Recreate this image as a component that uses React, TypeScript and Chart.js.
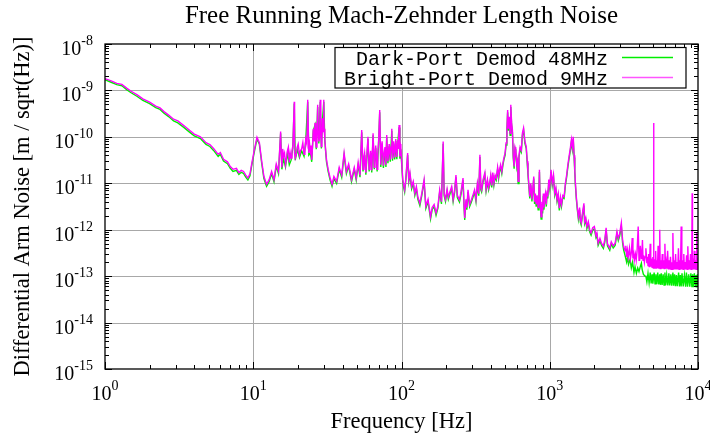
import React, { useEffect, useRef } from 'react';
import { Chart, registerables } from 'chart.js';

Chart.register(...registerables);

const chartTitle = 'Free Running Mach-Zehnder Length Noise';
const xAxisTitle = 'Frequency [Hz]';
const yAxisTitle = 'Differential Arm Noise [m / sqrt(Hz)]';
const seriesLabels = ['Dark-Port Demod 48MHz', 'Bright-Port Demod 9MHz'];
const seriesColors = ['#00ee00', '#ff00ff'];
const xTickExponents = [0, 1, 2, 3, 4];
const yTickExponents = [-15, -14, -13, -12, -11, -10, -9, -8];

// Bright-Port Demod 9MHz: [frequency Hz, noise m/sqrt(Hz)]
const brightPortSpectrum: [number, number][] = [
  [1.0, 1.8e-9], [1.1, 1.6e-9], [1.2, 1.42e-9], [1.3, 1.35e-9], [1.4, 1.12e-9], [1.5, 9.6e-10],
  [1.65, 8.0e-10], [1.8, 6.6e-10], [2.0, 5.6e-10], [2.2, 4.6e-10], [2.35, 4.2e-10], [2.5, 3.5e-10],
  [2.7, 2.9e-10], [2.9, 2.4e-10], [3.1, 2.2e-10], [3.4, 1.75e-10], [3.7, 1.4e-10], [4.0, 1.15e-10],
  [4.4, 1.0e-10], [4.8, 7.5e-11], [5.1, 6.8e-11], [5.4, 5.6e-11], [5.8, 4.2e-11], [6.0, 4.6e-11],
  [6.3, 3.3e-11], [6.7, 2.9e-11], [7.0, 2.3e-11], [7.3, 2.0e-11], [7.7, 2.1e-11], [8.0, 1.7e-11],
  [8.3, 1.9e-11], [8.6, 1.8e-11], [8.9, 1.5e-11], [9.2, 1.3e-11], [9.5, 1.6e-11], [9.8, 2.8e-11],
  [10.2, 5.5e-11], [10.6, 9.8e-11], [11.0, 7.5e-11], [11.4, 3.0e-11], [11.8, 1.4e-11], [12.3, 9.5e-12],
  [12.8, 1.2e-11], [13.3, 1.8e-11], [13.8, 1.2e-11], [14.3, 2.6e-11], [14.8, 1.8e-11], [15.3, 1.3e-10],
  [15.45, 4.0e-11], [15.6, 2.2e-11], [15.8, 5.5e-11], [16.0, 3.8e-11], [16.25, 4.5e-11], [16.5, 2.5e-11],
  [16.75, 3.5e-11], [17.0, 5.0e-11], [17.25, 6.0e-11], [17.5, 2.8e-11], [17.75, 4.5e-11], [18.0, 3.5e-11],
  [18.25, 5.0e-11], [18.5, 6.5e-11], [18.9, 5.7e-10], [19.0, 4.5e-11], [19.2, 3.5e-11], [19.5, 4.2e-11],
  [19.8, 6.0e-11], [20.1, 7.0e-11], [20.5, 4.0e-11], [20.8, 5.0e-11], [21.2, 5.5e-11], [21.6, 7.5e-11],
  [22.0, 4.2e-11], [22.3, 5.0e-11], [22.6, 9.0e-11], [23.0, 7.0e-11], [23.3, 6.3e-10], [23.7, 4.5e-11],
  [24.0, 7.0e-11], [24.3, 5.0e-11], [24.55, 6.5e-11], [24.8, 3.2e-11], [25.1, 6.0e-11], [25.4, 1.5e-10],
  [25.8, 8.0e-11], [26.1, 2.0e-10], [26.35, 9.0e-11], [26.6, 6.0e-11], [26.9, 1.1e-10], [27.2, 4.9e-10],
  [27.45, 1.2e-10], [27.7, 8.0e-11], [28.0, 1.0e-10], [28.3, 6.3e-10], [28.55, 1.5e-10], [28.8, 6.2e-11],
  [29.05, 9.0e-11], [29.3, 2.5e-10], [29.6, 1.3e-10], [29.9, 6.3e-10], [30.1, 1.5e-10], [30.4, 9.0e-11],
  [30.8, 5.0e-11], [31.2, 3.2e-11], [32.0, 2.0e-11],
  [33.0, 1.3e-11], [34.0, 9.5e-12], [35.0, 1.4e-11], [36.5, 1.1e-11], [38.0, 2.2e-11], [39.5, 1.5e-11],
  [41.0, 4.5e-11], [42.5, 1.8e-11], [44.0, 2.6e-11], [46.0, 1.2e-11], [48.0, 2.2e-11], [49.5, 1.3e-11],
  [51.0, 2.8e-11], [52.5, 1.5e-11], [53.9, 1.4e-10], [54.5, 5.0e-11], [55.0, 2.0e-11], [55.7, 3.5e-11],
  [56.4, 4.5e-11], [57.5, 1.7e-11], [58.4, 4.0e-11], [59.4, 1.0e-10], [60.5, 2.0e-11], [61.2, 3.5e-11],
  [62.0, 5.0e-11], [63.0, 1.9e-11], [63.6, 4.5e-11], [64.3, 1.2e-10], [65.5, 2.2e-11], [66.2, 4.0e-11],
  [67.0, 6.5e-11], [67.7, 3.5e-11], [68.5, 2.0e-11], [69.2, 4.5e-11], [70.0, 7.5e-11], [71.3, 3.8e-10],
  [72.5, 2.5e-11], [73.2, 5.5e-11], [74.0, 8.0e-11], [75.5, 2.4e-11], [76.4, 4.5e-11], [77.4, 6.0e-11],
  [78.5, 2.5e-11], [79.5, 1.1e-10], [80.2, 5.0e-11], [81.0, 3.0e-11], [82.5, 7.0e-11], [83.2, 5.5e-11],
  [84.0, 3.2e-11], [85.0, 6.0e-11], [86.0, 1.5e-10], [87.0, 3.4e-11], [88.5, 8.0e-11], [89.2, 5.5e-11],
  [90.0, 3.6e-11], [91.5, 9.0e-11], [92.2, 6.0e-11], [93.0, 3.7e-11], [94.5, 8.5e-11], [95.3, 5.5e-11],
  [96.3, 1.8e-10], [97.5, 3.8e-11], [98.2, 7.0e-11], [99.0, 6.0e-11], [100.5, 2.5e-11],
  [102, 1.2e-11], [103.5, 9.0e-12], [105, 7.2e-12], [107, 1.3e-11], [110, 4.5e-11], [112, 1.2e-11],
  [114, 1.7e-11], [117, 8.5e-12], [120, 1.1e-11], [123, 6.1e-12], [126, 8.5e-12], [129, 5.0e-12],
  [133, 3.7e-12], [137, 6.0e-12], [142, 1.2e-11], [146, 3.2e-12], [151, 4.5e-12], [157, 1.9e-12],
  [161, 3.0e-12], [166, 3.5e-12], [171, 2.3e-12], [176, 3.2e-12], [181, 7.2e-12], [186, 4.0e-12],
  [191, 7.9e-11], [194, 6.0e-12], [198, 4.5e-12], [203, 7.5e-12], [207, 5.0e-12], [212, 6.5e-12],
  [218, 8.5e-12], [223, 4.5e-12], [228, 7.0e-12], [233, 1.5e-11], [238, 5.5e-12], [246, 4.4e-12],
  [252, 6.5e-12], [260, 1.3e-11], [264, 3.5e-12], [267, 1.8e-12], [272, 4.5e-12], [276, 3.0e-12],
  [281, 7.2e-12], [288, 3.5e-12], [296, 4.4e-12], [303, 5.5e-12], [311, 7.2e-12], [318, 4.5e-12],
  [325, 1.0e-11], [332, 6.0e-12], [338, 4.1e-11], [343, 8.0e-12], [347, 7.2e-12], [355, 1.2e-11],
  [365, 1.7e-11], [372, 7.5e-12], [380, 1.2e-11], [387, 8.0e-12], [393, 1.0e-11], [400, 1.5e-11],
  [406, 9.0e-12], [413, 1.7e-11], [420, 1.0e-11], [428, 1.5e-11], [436, 1.3e-11], [445, 2.2e-11],
  [452, 1.4e-11], [458, 1.95e-11], [466, 2.5e-11], [475, 1.8e-11], [483, 2.7e-11], [490, 3.5e-11],
  [500, 4.5e-11], [507, 7.4e-11], [514, 1.5e-10], [520, 3.8e-10], [526, 1.5e-10], [533, 2.7e-10],
  [540, 1.2e-10], [546, 4.9e-10], [553, 2.0e-10], [560, 1.4e-10], [567, 4.0e-11], [575, 2.3e-11],
  [583, 6.0e-11], [590, 5.2e-11], [600, 2.5e-11], [606, 3.0e-11], [612, 1.1e-11], [620, 4.0e-11],
  [631, 6.0e-11], [643, 5.2e-11], [654, 1.2e-10], [666, 1.55e-10], [680, 8.0e-11], [694, 6.2e-11],
  [705, 3.0e-11], [713, 1.7e-11], [722, 1.0e-11], [733, 5.2e-12], [745, 1.0e-11], [758, 4.5e-12],
  [768, 7.2e-12], [780, 1.4e-11], [790, 4.0e-12], [800, 6.0e-12], [810, 3.5e-12], [822, 5.5e-12],
  [835, 3.0e-12], [845, 7.0e-12], [852, 1.95e-11], [860, 5.0e-12], [874, 1.9e-12], [885, 4.0e-12],
  [895, 2.5e-12], [905, 6.0e-12], [914, 3.0e-12], [922, 4.4e-12], [935, 6.0e-12], [948, 3.5e-12],
  [960, 7.0e-12], [970, 5.2e-12], [985, 1.2e-11], [1000, 8.5e-12], [1020, 1.95e-11], [1040, 1.0e-11],
  [1060, 1.5e-11], [1080, 6.1e-12], [1100, 8.0e-12], [1120, 4.5e-12], [1140, 6.0e-12], [1160, 2.9e-12],
  [1180, 5.0e-12], [1200, 3.5e-12], [1225, 5.5e-12], [1250, 5.2e-12], [1275, 1.0e-11], [1300, 1.5e-11],
  [1325, 2.5e-11], [1350, 3.8e-11], [1375, 5.5e-11], [1400, 8.7e-11], [1420, 6.0e-11], [1440, 1.0e-10],
  [1460, 4.0e-11], [1475, 1.95e-11], [1490, 1.0e-11], [1510, 5.2e-12], [1535, 3.0e-12], [1560, 1.9e-12],
  [1590, 3.0e-12], [1610, 1.6e-12], [1630, 1.4e-12], [1660, 2.2e-12], [1700, 3.7e-12], [1720, 1.5e-12],
  [1750, 1.8e-12], [1780, 1.17e-12], [1820, 1.5e-12], [1860, 1.0e-12], [1900, 8.5e-13], [1950, 1.1e-12],
  [2000, 1.17e-12], [2050, 7.5e-13], [2080, 8.5e-13], [2120, 5.1e-13], [2180, 6.5e-13], [2240, 5.0e-13],
  [2300, 4.4e-13], [2350, 6.0e-13], [2400, 1.1e-12], [2450, 5.0e-13], [2540, 4.0e-13], [2600, 5.5e-13],
  [2680, 4.5e-13], [2760, 5.1e-13], [2840, 9.1e-13], [2900, 6.5e-13], [2960, 8.0e-13], [3040, 1.4e-12],
  [3100, 6.0e-13], [3150, 4.4e-13], [3220, 3.5e-13], [3260, 4.5e-13], [3300, 2.6e-13], [3340, 3.6e-13],
  [3380, 2.5e-13], [3450, 4.0e-13], [3500, 2.4e-13], [3550, 3.2e-13], [3600, 6.6e-13], [3640, 2.4e-13],
  [3690, 3.0e-13], [3720, 2.2e-13], [3780, 3.0e-13], [3830, 2.2e-13], [3880, 3.4e-13], [3950, 1.17e-12],
  [4000, 2.2e-13], [4040, 2.8e-13], [4080, 4.5e-13], [4140, 2.4e-13], [4180, 3.0e-13], [4220, 6.0e-13],
  [4260, 2.2e-13], [4300, 2.8e-13], [4350, 2.0e-13], [4400, 2.6e-13], [4450, 4.0e-13], [4520, 1.9e-13],
  [4560, 2.6e-13], [4600, 1.7e-13], [4640, 3.0e-13], [4680, 1.6e-13], [4720, 2.2e-13], [4760, 5.0e-13],
  [4800, 1.6e-13], [4850, 2.4e-13], [4900, 1.55e-13], [4960, 2.6e-13], [5000, 1.5e-13], [5020, 2.0e-10],
  [5040, 1.5e-13], [5080, 2.3e-13], [5130, 1.5e-13], [5180, 3.5e-13], [5230, 1.5e-13], [5280, 2.2e-13],
  [5330, 1.5e-13], [5380, 4.5e-13], [5440, 1.45e-13], [5480, 2.2e-13], [5520, 1.0e-12], [5560, 1.45e-13],
  [5620, 2.2e-13], [5680, 1.45e-13], [5740, 3.0e-13], [5800, 1.45e-13], [5860, 2.2e-13], [5920, 1.45e-13],
  [5980, 5.0e-13], [6040, 1.45e-13], [6100, 2.0e-13], [6170, 1.45e-13], [6240, 3.5e-13], [6310, 1.4e-13],
  [6380, 2.2e-13], [6450, 1.4e-13], [6520, 2.6e-13], [6590, 1.4e-13], [6660, 2.0e-13], [6720, 1.4e-13],
  [6770, 8.5e-13], [6830, 1.4e-13], [6900, 2.2e-13], [6980, 1.4e-13], [7060, 3.0e-13], [7140, 1.4e-13],
  [7220, 2.0e-13], [7300, 1.4e-13], [7380, 4.0e-13], [7460, 1.4e-13], [7540, 2.2e-13], [7620, 1.4e-13],
  [7700, 1.17e-12], [7780, 1.4e-13], [7860, 2.2e-13], [7940, 1.4e-13], [8020, 3.0e-13], [8100, 1.4e-13],
  [8190, 2.0e-13], [8280, 1.4e-13], [8370, 2.8e-13], [8460, 1.4e-13], [8540, 4.4e-13], [8620, 1.4e-13],
  [8710, 2.2e-13], [8800, 1.4e-13], [8900, 3.0e-13], [8990, 1.4e-13], [9080, 2.0e-13], [9130, 6.1e-12],
  [9180, 1.4e-13], [9270, 2.4e-13], [9360, 1.4e-13], [9450, 3.5e-13], [9540, 1.4e-13], [9630, 2.2e-13],
  [9720, 1.4e-13], [9800, 8.5e-13], [9870, 1.4e-13], [9940, 2.5e-13], [10000, 1.5e-13],
];

// Dark-Port Demod 48MHz: [frequency Hz, noise m/sqrt(Hz)]
const darkPortSpectrum: [number, number][] = [
  [1.0, 1.7e-9], [1.1, 1.5e-9], [1.2, 1.33e-9], [1.3, 1.26e-9], [1.4, 1.04e-9], [1.5, 8.9e-10],
  [1.65, 7.4e-10], [1.8, 6.1e-10], [2.0, 5.2e-10], [2.2, 4.25e-10], [2.35, 3.9e-10], [2.5, 3.25e-10],
  [2.7, 2.7e-10], [2.9, 2.2e-10], [3.1, 2.0e-10], [3.4, 1.6e-10], [3.7, 1.28e-10], [4.0, 1.05e-10],
  [4.4, 9.2e-11], [4.8, 6.9e-11], [5.1, 6.2e-11], [5.4, 5.1e-11], [5.8, 3.8e-11], [6.0, 4.2e-11],
  [6.3, 3.0e-11], [6.7, 2.65e-11], [7.0, 2.1e-11], [7.3, 1.8e-11], [7.7, 1.9e-11], [8.0, 1.55e-11],
  [8.3, 1.72e-11], [8.6, 1.63e-11], [8.9, 1.36e-11], [9.2, 1.18e-11], [9.5, 1.45e-11], [9.8, 2.55e-11],
  [10.2, 5.0e-11], [10.6, 9.0e-11], [11.0, 6.9e-11], [11.4, 2.7e-11], [11.8, 1.27e-11], [12.3, 8.6e-12],
  [12.8, 1.08e-11], [13.3, 1.62e-11], [13.8, 1.08e-11], [14.3, 2.35e-11], [14.8, 1.62e-11], [15.3, 1.2e-10],
  [15.6, 2.0e-11], [16.0, 3.4e-11], [16.5, 2.25e-11], [17.0, 4.5e-11], [17.5, 2.5e-11], [18.0, 3.15e-11],
  [18.5, 5.8e-11], [18.9, 5.2e-10], [19.2, 3.15e-11], [19.8, 5.4e-11], [20.5, 3.6e-11], [21.2, 5.0e-11],
  [22.0, 3.8e-11], [22.6, 8.1e-11], [23.3, 5.7e-10], [23.7, 4.05e-11], [24.3, 4.5e-11], [24.8, 2.9e-11],
  [25.4, 1.35e-10], [26.1, 1.8e-10], [26.6, 5.4e-11], [27.2, 4.4e-10], [27.7, 7.2e-11], [28.3, 5.7e-10],
  [28.8, 5.6e-11], [29.3, 2.25e-10], [29.9, 5.7e-10], [30.4, 8.1e-11], [31.2, 2.9e-11], [32.0, 1.8e-11],
  [33.0, 1.17e-11], [34.0, 8.6e-12], [35.0, 1.26e-11], [36.5, 9.9e-12], [38.0, 2.0e-11], [39.5, 1.35e-11],
  [41.0, 4.05e-11], [42.5, 1.62e-11], [44.0, 2.35e-11], [46.0, 1.08e-11], [48.0, 2.0e-11], [49.5, 1.17e-11],
  [51.0, 2.5e-11], [52.5, 1.35e-11], [53.9, 1.26e-10], [55.0, 1.8e-11], [56.4, 4.05e-11], [57.5, 1.53e-11],
  [59.4, 9.0e-11], [60.5, 1.8e-11], [62.0, 4.5e-11], [63.0, 1.71e-11], [64.3, 1.08e-10], [65.5, 2.0e-11],
  [67.0, 5.8e-11], [68.5, 1.8e-11], [70.0, 6.8e-11], [71.3, 3.4e-10], [72.5, 2.25e-11], [74.0, 7.2e-11],
  [75.5, 2.15e-11], [77.4, 5.4e-11], [78.5, 2.25e-11], [79.5, 9.9e-11], [81.0, 2.7e-11], [82.5, 6.3e-11],
  [84.0, 2.9e-11], [86.0, 1.35e-10], [87.0, 3.05e-11], [88.5, 7.2e-11], [90.0, 3.25e-11], [91.5, 8.1e-11],
  [93.0, 3.3e-11], [94.5, 7.6e-11], [96.3, 1.6e-10], [97.5, 3.4e-11], [99.0, 5.4e-11], [100.5, 2.25e-11],
  [102, 1.08e-11], [103.5, 8.1e-12], [105, 6.5e-12], [107, 1.17e-11], [110, 4.05e-11], [112, 1.08e-11],
  [114, 1.53e-11], [117, 7.6e-12], [120, 9.9e-12], [123, 5.5e-12], [126, 7.6e-12], [129, 4.5e-12],
  [133, 3.3e-12], [137, 5.4e-12], [142, 1.08e-11], [146, 2.9e-12], [151, 4.05e-12], [157, 1.7e-12],
  [161, 2.7e-12], [166, 3.15e-12], [171, 2.05e-12], [176, 2.9e-12], [181, 6.5e-12], [186, 3.6e-12],
  [191, 7.1e-11], [194, 5.4e-12], [198, 4.05e-12], [203, 6.8e-12], [207, 4.5e-12], [212, 5.8e-12],
  [218, 7.6e-12], [223, 4.05e-12], [228, 6.3e-12], [233, 1.35e-11], [238, 4.95e-12], [246, 3.95e-12],
  [252, 5.8e-12], [260, 1.17e-11], [264, 3.15e-12], [267, 1.62e-12], [272, 4.05e-12], [276, 2.7e-12],
  [281, 6.5e-12], [288, 3.15e-12], [296, 3.95e-12], [303, 4.95e-12], [311, 6.5e-12], [318, 4.05e-12],
  [325, 9.0e-12], [332, 5.4e-12], [338, 3.7e-11], [343, 7.2e-12], [347, 6.5e-12], [355, 1.08e-11],
  [365, 1.53e-11], [372, 6.8e-12], [380, 1.08e-11], [387, 7.2e-12], [393, 9.0e-12], [400, 1.35e-11],
  [406, 8.1e-12], [413, 1.53e-11], [420, 9.0e-12], [428, 1.35e-11], [436, 1.17e-11], [445, 2.0e-11],
  [452, 1.26e-11], [458, 1.75e-11], [466, 2.25e-11], [475, 1.62e-11], [483, 2.45e-11], [490, 3.15e-11],
  [500, 4.05e-11], [507, 6.7e-11], [514, 1.35e-10], [520, 3.4e-10], [526, 1.35e-10], [533, 2.45e-10],
  [540, 1.08e-10], [546, 4.4e-10], [553, 1.8e-10], [560, 1.26e-10], [567, 3.6e-11], [575, 2.05e-11],
  [583, 5.4e-11], [590, 4.7e-11], [600, 2.25e-11], [606, 2.7e-11], [612, 9.9e-12], [620, 3.6e-11],
  [631, 5.4e-11], [643, 4.7e-11], [654, 1.08e-10], [666, 1.4e-10], [680, 7.2e-11], [694, 5.6e-11],
  [705, 2.7e-11], [713, 1.53e-11], [722, 9.0e-12], [733, 4.7e-12], [745, 9.0e-12], [758, 4.05e-12],
  [768, 6.5e-12], [780, 1.26e-11], [790, 3.6e-12], [800, 5.4e-12], [810, 3.15e-12], [822, 4.95e-12],
  [835, 2.7e-12], [845, 6.3e-12], [852, 1.75e-11], [860, 4.5e-12], [874, 1.7e-12], [885, 3.6e-12],
  [895, 2.25e-12], [905, 5.4e-12], [914, 2.7e-12], [922, 3.95e-12], [935, 5.4e-12], [948, 3.15e-12],
  [960, 6.3e-12], [970, 4.7e-12], [985, 1.08e-11], [1000, 7.6e-12], [1020, 1.75e-11], [1040, 9.0e-12],
  [1060, 1.35e-11], [1080, 5.5e-12], [1100, 7.2e-12], [1120, 4.05e-12], [1140, 5.4e-12], [1160, 2.6e-12],
  [1180, 4.5e-12], [1200, 3.15e-12], [1225, 4.95e-12], [1250, 4.7e-12], [1275, 9.0e-12], [1300, 1.35e-11],
  [1325, 2.25e-11], [1350, 3.4e-11], [1375, 4.95e-11], [1400, 7.8e-11], [1420, 5.4e-11], [1440, 9.0e-11],
  [1460, 3.6e-11], [1475, 1.75e-11], [1490, 9.0e-12], [1510, 4.7e-12], [1535, 2.7e-12], [1560, 1.7e-12],
  [1590, 2.7e-12], [1610, 1.44e-12], [1630, 1.26e-12], [1660, 1.98e-12], [1700, 3.3e-12], [1720, 1.35e-12],
  [1750, 1.62e-12], [1780, 1.05e-12], [1820, 1.35e-12], [1860, 9.0e-13], [1900, 7.6e-13], [1950, 9.9e-13],
  [2000, 1.05e-12], [2050, 6.8e-13], [2080, 7.6e-13], [2120, 4.6e-13], [2180, 5.8e-13], [2240, 4.5e-13],
  [2300, 3.95e-13], [2350, 5.4e-13], [2400, 9.9e-13], [2450, 4.5e-13], [2540, 3.6e-13], [2600, 4.95e-13],
  [2680, 4.05e-13], [2760, 4.6e-13], [2840, 8.2e-13], [2900, 5.8e-13], [2960, 7.2e-13], [3040, 1.2e-12],
  [3100, 5.2e-13], [3150, 3.7e-13], [3220, 2.8e-13], [3300, 2.0e-13], [3350, 2.6e-13], [3400, 1.8e-13],
  [3480, 2.3e-13], [3550, 1.5e-13], [3620, 2.0e-13], [3700, 1.2e-13], [3760, 1.6e-13], [3840, 1.15e-13],
  [3920, 1.5e-13], [4000, 1.25e-13], [4080, 1.6e-13], [4150, 1.9e-13], [4200, 1.4e-13], [4280, 1.1e-13],
  [4380, 1.0e-13], [4450, 1.0e-13], [4520, 7.5e-14], [4600, 1.15e-13], [4680, 7.2e-14], [4760, 1.2e-13],
  [4830, 7.0e-14], [4900, 1.1e-13], [4960, 6.9e-14], [5060, 1.2e-13], [5130, 6.8e-14], [5200, 1.1e-13],
  [5280, 6.7e-14], [5350, 1.2e-13], [5440, 6.6e-14], [5520, 1.1e-13], [5580, 6.5e-14], [5650, 1.15e-13],
  [5730, 6.5e-14], [5820, 1.1e-13], [5900, 6.4e-14], [5980, 1.2e-13], [6060, 6.4e-14], [6150, 1.05e-13],
  [6260, 6.3e-14], [6360, 1.15e-13], [6450, 6.3e-14], [6560, 1.1e-13], [6650, 6.2e-14], [6770, 1.2e-13],
  [6850, 6.2e-14], [6950, 1.1e-13], [7050, 6.1e-14], [7150, 1.05e-13], [7250, 6.1e-14], [7400, 1.2e-13],
  [7500, 6.0e-14], [7600, 1.05e-13], [7700, 6.0e-14], [7800, 1.15e-13], [7950, 6.0e-14], [8100, 1.05e-13],
  [8250, 5.9e-14], [8350, 1.2e-13], [8500, 5.9e-14], [8650, 1.1e-13], [8800, 5.9e-14], [8950, 1.15e-13],
  [9100, 5.8e-14], [9200, 1.1e-13], [9300, 5.8e-14], [9450, 1.15e-13], [9600, 5.8e-14], [9700, 1.05e-13],
  [9800, 5.7e-14], [9900, 1.1e-13], [10000, 5.8e-14],
];

const SERIF = '"Liberation Serif", "Times New Roman", serif';
const MONO = '"Liberation Mono", "DejaVu Sans Mono", monospace';

function drawPower(ctx: CanvasRenderingContext2D, exp: number, x: number, yBase: number, ySup: number, align: 'center' | 'right') {
  const base = '10';
  const sup = String(exp);
  ctx.font = `20px ${SERIF}`;
  const w1 = ctx.measureText(base).width;
  ctx.font = `14px ${SERIF}`;
  const w2 = ctx.measureText(sup).width;
  const total = w1 + w2;
  const start = align === 'center' ? x - total / 2 : x - total;
  ctx.textAlign = 'left';
  ctx.textBaseline = 'alphabetic';
  ctx.font = `20px ${SERIF}`;
  ctx.fillText(base, start, yBase);
  ctx.font = `14px ${SERIF}`;
  ctx.fillText(sup, start + w1, ySup);
}

const decorPlugin = {
  id: 'decor',
  beforeDatasetsDraw(chart: any) {
    const { ctx, chartArea: a, scales } = chart;
    const xs = scales.x;
    const ys = scales.y;
    ctx.save();
    ctx.strokeStyle = '#a8a8a8';
    ctx.lineWidth = 1;
    for (const e of xTickExponents) {
      const px = Math.round(xs.getPixelForValue(Math.pow(10, e))) + 0.5;
      if (px <= a.left + 2 || px >= a.right - 2) continue;
      ctx.beginPath();
      ctx.moveTo(px, a.top);
      ctx.lineTo(px, a.bottom);
      ctx.stroke();
    }
    for (const e of yTickExponents) {
      const py = Math.round(ys.getPixelForValue(Math.pow(10, e))) + 0.5;
      if (py <= a.top + 2 || py >= a.bottom - 2) continue;
      ctx.beginPath();
      ctx.moveTo(a.left, py);
      ctx.lineTo(a.right, py);
      ctx.stroke();
    }
    ctx.restore();
  },
  afterDatasetsDraw(chart: any) {
    const { ctx, chartArea: a, scales } = chart;
    const xs = scales.x;
    const ys = scales.y;
    ctx.save();
    ctx.fillStyle = '#000';
    ctx.strokeStyle = '#000';
    ctx.lineWidth = 1;

    ctx.beginPath();
    for (let i = 0; i < xTickExponents.length; i++) {
      const e = xTickExponents[i];
      for (let k = 1; k <= 9; k++) {
        if (k > 1 && i === xTickExponents.length - 1) break;
        const v = k * Math.pow(10, e);
        const px = Math.round(xs.getPixelForValue(v)) + 0.5;
        const len = k === 1 ? 7 : 4;
        ctx.moveTo(px, a.bottom);
        ctx.lineTo(px, a.bottom - len);
        ctx.moveTo(px, a.top);
        ctx.lineTo(px, a.top + len);
      }
    }
    for (let i = 0; i < yTickExponents.length; i++) {
      const e = yTickExponents[i];
      for (let k = 1; k <= 9; k++) {
        if (k > 1 && i === yTickExponents.length - 1) break;
        const v = k * Math.pow(10, e);
        const py = Math.round(ys.getPixelForValue(v)) + 0.5;
        const len = k === 1 ? 7 : 4;
        ctx.moveTo(a.left, py);
        ctx.lineTo(a.left + len, py);
        ctx.moveTo(a.right, py);
        ctx.lineTo(a.right - len, py);
      }
    }
    ctx.stroke();

    ctx.lineWidth = 1.3;
    ctx.strokeRect(a.left, a.top, a.right - a.left, a.bottom - a.top);

    for (const e of xTickExponents) {
      const px = xs.getPixelForValue(Math.pow(10, e));
      drawPower(ctx, e, px, a.bottom + 31, a.bottom + 21, 'center');
    }
    for (const e of yTickExponents) {
      const py = ys.getPixelForValue(Math.pow(10, e));
      drawPower(ctx, e, a.left - 12, py + 11, py + 1, 'right');
    }

    ctx.textAlign = 'center';
    ctx.textBaseline = 'alphabetic';
    ctx.font = `25px ${SERIF}`;
    ctx.fillText(chartTitle, (a.left + a.right) / 2, 23);

    ctx.font = `22.5px ${SERIF}`;
    ctx.fillText(xAxisTitle, (a.left + a.right) / 2, a.bottom + 59);
    ctx.save();
    ctx.translate(29, (a.top + a.bottom) / 2);
    ctx.rotate(-Math.PI / 2);
    ctx.fillText(yAxisTitle, 0, 0);
    ctx.restore();

    const bx = 335;
    const by = 47.5;
    const bw = 351;
    const bh = 40.5;
    ctx.fillStyle = '#fff';
    ctx.fillRect(bx, by, bw, bh);
    ctx.lineWidth = 1.2;
    ctx.strokeStyle = '#000';
    ctx.strokeRect(bx, by, bw, bh);
    ctx.font = `20px ${MONO}`;
    ctx.textAlign = 'right';
    ctx.fillStyle = '#000';
    const rows = [57.5, 77.5];
    for (let i = 0; i < 2; i++) {
      ctx.fillText(seriesLabels[i], 608, rows[i] + 7);
      ctx.strokeStyle = i === 0 ? seriesColors[0] : '#ff55ff';
      ctx.lineWidth = 1.5;
      ctx.beginPath();
      ctx.moveTo(622, rows[i]);
      ctx.lineTo(673, rows[i]);
      ctx.stroke();
    }
    ctx.restore();
  },
};

export default function App() {
  const canvasRef = useRef<HTMLCanvasElement | null>(null);

  useEffect(() => {
    document.body.style.margin = '0';
    const canvas = canvasRef.current;
    if (!canvas) return;
    const chart = new Chart(canvas, {
      type: 'line',
      data: {
        datasets: [
          {
            label: seriesLabels[0],
            data: darkPortSpectrum.map(([f, v]) => ({ x: f, y: v })),
            borderColor: seriesColors[0],
            borderWidth: 1.4,
            pointRadius: 0,
            tension: 0,
            order: 1,
          },
          {
            label: seriesLabels[1],
            data: brightPortSpectrum.map(([f, v]) => ({ x: f, y: v })),
            borderColor: seriesColors[1],
            borderWidth: 1.4,
            pointRadius: 0,
            tension: 0,
            order: 0,
          },
        ],
      },
      options: {
        responsive: false,
        animation: false,
        devicePixelRatio: 1,
        layout: { padding: { left: 105, right: 12, top: 44, bottom: 70 } },
        plugins: {
          legend: { display: false },
          title: { display: false },
          tooltip: { enabled: false },
        },
        events: [],
        scales: {
          x: { type: 'logarithmic', min: 1, max: 10000, display: false },
          y: { type: 'logarithmic', min: 1e-15, max: 1e-8, display: false },
        },
      },
      plugins: [decorPlugin],
    });
    return () => chart.destroy();
  }, []);

  return (
    <div style={{ width: 710, height: 439, background: '#fff' }}>
      <canvas ref={canvasRef} width={710} height={439} style={{ display: 'block' }} />
    </div>
  );
}
